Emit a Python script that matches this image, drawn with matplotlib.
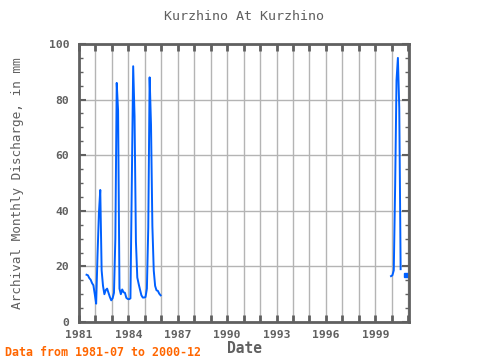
import numpy as np
import matplotlib
matplotlib.use('Agg')
import matplotlib.pyplot as plt
from matplotlib.ticker import MultipleLocator

# monthly discharge, mm
years_a = [1981] * 6 + [1982] * 12 + [1983] * 12 + [1984] * 12 + [1985] * 12 + [1986]
months_a = list(range(7, 13)) + list(range(1, 13)) * 4 + [1]
flow_a = [17.0, 16.8, 15.8, 15.2, 14.0, 13.2,
          10.0, 6.6, 24.0, 39.0, 47.5, 18.6, 13.0, 10.0, 11.5, 12.0, 10.5, 9.0,
          7.8, 8.5, 10.5, 30.0, 86.0, 76.0, 12.0, 10.0, 11.7, 10.7, 10.5, 8.7,
          8.3, 8.2, 8.5, 50.0, 92.0, 74.0, 29.0, 16.0, 13.7, 11.6, 9.6, 8.8,
          8.8, 9.0, 12.0, 34.0, 88.0, 71.0, 34.5, 18.5, 13.0, 11.4, 11.2, 10.2,
          9.6]

years_b = [2000] * 12
months_b = list(range(1, 13))
flow_b = [16.5, 16.8, 18.6, 49.0, 87.0, 95.0, 77.0, 19.0, np.nan, np.nan, np.nan, 17.0]

xticks = [1981, 1984, 1987, 1990, 1993, 1996, 1999]

def to_dec(years, months):
    return np.array(years) + (np.array(months) - 1.5) / 12.0

xa = to_dec(years_a, months_a)
xb = to_dec(years_b, months_b)

grey = '#606060'
blue = '#0060ff'
font = 'DejaVu Sans Mono'

fig = plt.figure(figsize=(4.8, 3.6), dpi=100)
ax = fig.add_axes([79 / 480, 1 - 322 / 360, 330 / 480, 278 / 360])

ax.plot(xa, flow_a, color=blue, lw=1.4)
ax.plot(xb, flow_b, color=blue, lw=1.4)
# isolated months show as dots
fb = np.array(flow_b)
for i in range(len(fb)):
    prev_ok = i > 0 and not np.isnan(fb[i - 1])
    next_ok = i < len(fb) - 1 and not np.isnan(fb[i + 1])
    if not np.isnan(fb[i]) and not prev_ok and not next_ok:
        ax.plot(xb[i], fb[i], marker='s', ms=2.5, color=blue)

ax.set_xlim(1981, 2001.05)
ax.set_ylim(0, 100)
ax.set_xticks(xticks)
ax.xaxis.set_minor_locator(MultipleLocator(1))
ax.yaxis.set_major_locator(MultipleLocator(20))
ax.yaxis.set_minor_locator(MultipleLocator(5))
ax.grid(True, which='major', axis='y', color='#b4b4b4', lw=1)
ax.grid(True, which='both', axis='x', color='#b4b4b4', lw=1)
ax.set_axisbelow(True)

ax.tick_params(which='both', direction='in', top=True, right=True, color=grey,
               labelcolor=grey, labelsize=8.2)
ax.tick_params(which='major', length=5, width=1.5)
ax.tick_params(which='minor', length=3, width=1.0)
ax.tick_params(axis='x', which='both', length=5, width=2)
ax.tick_params(axis='x', pad=5.5)
ax.tick_params(axis='y', pad=7)
for lab in ax.get_xticklabels() + ax.get_yticklabels():
    lab.set_family(font)
    lab.set_weight('bold')

for s in ax.spines.values():
    s.set_color(grey)
    s.set_linewidth(2)

ax.set_title('Kurzhino At Kurzhino', family=font, color=grey, fontsize=9.6, pad=17)
ax.set_ylabel('Archival Monthly Discharge, in mm', family=font, color=grey, fontsize=9.2)
ax.yaxis.set_label_coords(-0.168, 0.5)
ax.set_xlabel('Date', family=font, color=grey, fontsize=10.5, weight='bold', labelpad=1)
fig.text(5 / 480, 1 - 352 / 360, 'Data from 1981-07 to 2000-12', family=font,
         color='#ff6600', fontsize=8.4, weight='bold', va='center')

fig.savefig('out.png', dpi=100)
